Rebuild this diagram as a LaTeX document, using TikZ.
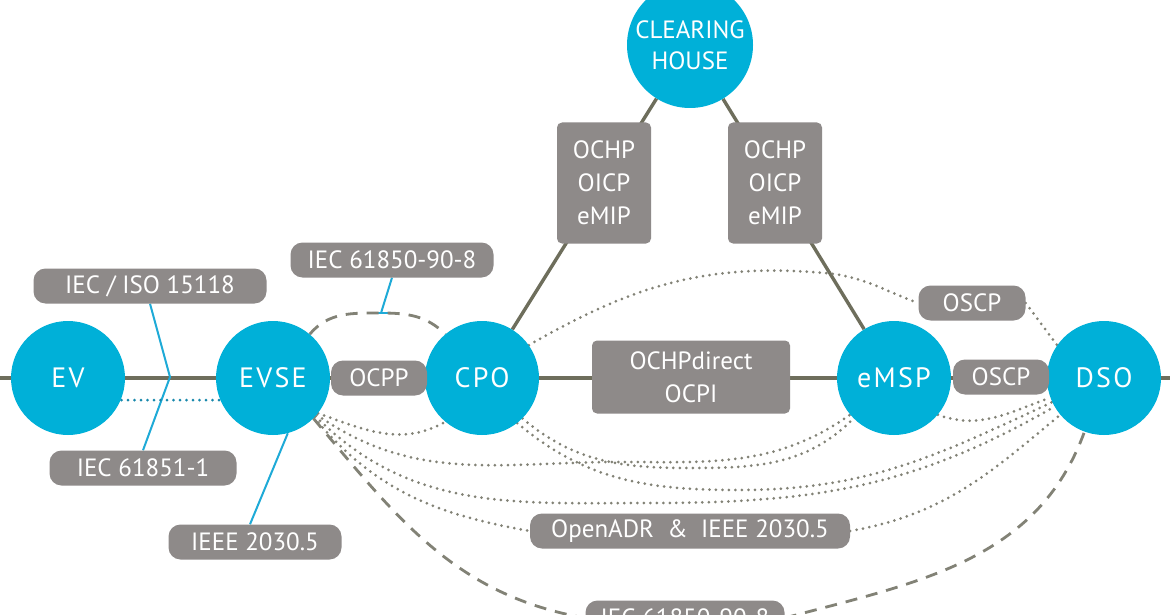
\documentclass[tikz,border=0pt]{standalone}
\usepackage{fontspec}
\setmainfont{PT Sans}
\usetikzlibrary{backgrounds}
\definecolor{cy}{RGB}{0,176,216}
\definecolor{bx}{RGB}{142,138,137}
\definecolor{ln}{RGB}{110,110,92}
\definecolor{dt}{RGB}{130,130,118}
\definecolor{bl}{RGB}{30,170,215}
\begin{document}
\begin{tikzpicture}[x=1pt,y=-1pt,
  circ/.style={circle,fill=cy,text=white,minimum size=114pt,inner sep=0pt,font=\fontsize{28}{30}\selectfont\addfontfeatures{LetterSpace=8}},
  lab/.style={rounded corners=12pt,fill=bx,text=white,minimum height=35pt,inner sep=0pt,font=\fontsize{25}{27}\selectfont},
  sq/.style={rounded corners=5pt,fill=bx,text=white,inner sep=0pt,align=center,font=\fontsize{25}{33}\selectfont},
  main/.style={ln,line width=3.4pt},
  dots/.style={dt,line width=3pt,dash pattern=on 0pt off 6.5pt,line cap=round},
  dsh/.style={dt,line width=2.8pt,dash pattern=on 12pt off 9pt},
  ptr/.style={bl,line width=2pt}]
\useasboundingbox (0,0) rectangle (1170,615);
\coordinate (L) at (0,378); \coordinate (R) at (1170,378);
\node[circ] (ev) at (68,378) {EV};
\node[circ] (evse) at (273,378) {EVSE};
\node[circ] (cpo) at (482,378) {CPO};
\node[circ] (emsp) at (894,378) {eMSP};
\node[circ] (dso) at (1104,378) {DSO};
\node[circ,minimum size=126pt,align=center,font=\fontsize{25}{31}\selectfont] (ch) at (690,45) {CLEARING\\HOUSE};
\node[lab,minimum width=233pt] (iso) at (150,286) {IEC / ISO 15118};
\node[lab,minimum width=203pt] (t61850) at (392,260) {IEC 61850-90-8};
\node[lab,minimum width=96pt] (ocpp) at (379,378) {OCPP};
\node[lab,minimum width=187pt] (i61851) at (143,468) {IEC 61851-1};
\node[lab,minimum width=173pt] (ieee) at (255,542) {IEEE 2030.5};
\node[sq,minimum width=198pt,minimum height=73pt] (ochpd) at (691,377) {OCHPdirect\\OCPI};
\node[sq,minimum width=94pt,minimum height=121pt] (o1) at (604,183) {OCHP\\OICP\\eMIP};
\node[sq,minimum width=94pt,minimum height=121pt] (o2) at (775,183) {OCHP\\OICP\\eMIP};
\node[lab,minimum width=107pt] (oscpt) at (972,303) {OSCP};
\node[lab,minimum width=96pt] (oscpm) at (1001,377) {OSCP};
\node[lab,minimum width=320pt] (adr) at (690,531) {OpenADR \ \& \ IEEE 2030.5};
\node[lab,minimum width=199pt] (b61850) at (685,618) {IEC 61850-90-8};
\coordinate (j1) at (170,377);
\coordinate (j2) at (381,313);
\begin{pgfonlayer}{background}
\fill[white] (0,0) rectangle (1170,615);
\draw[main] (L) -- (R);
\draw[main] (cpo) -- (ch);
\draw[main] (emsp) -- (ch);
\draw[ptr] (iso.south) -- (j1) -- (i61851.north);
\draw[ptr] (t61850.south) -- (j2);
\draw[ptr] (j2) ++(-7,0) -- ++(14,0);
\draw[ptr] (ieee.north) ++(-5,0) -- (evse.-75);
\draw[bl!80!black,line width=3pt,dash pattern=on 0pt off 6.5pt,line cap=round] (50,400) -- (285,400) to[out=0,in=130] (306,420);
\draw[dsh] (evse.50) to[out=50,in=180] (j2) to[out=0,in=135] (cpo.130);
\draw[dsh] (evse.-45) to[out=-50,in=170] (b61850.west);
\draw[dsh] (b61850.east) to[out=15,in=-110] (dso.-110);
\draw[dots] (cpo.35) to[out=30,in=175] (825,273) to[out=-5,in=160] (oscpt.west);
\draw[dots] (oscpt.east) -- (dso.145);
\draw[dots] (evse.-38) to[out=-20,in=-150] (cpo.-130);
\draw[dots] (evse.-40) to[out=-35,in=180] (620,462) to[out=0,in=-145] (emsp.-140);
\draw[dots] (evse.-42) to[out=-45,in=180] (650,503) to[out=0,in=-150] (dso.-150);
\draw[dots] (evse.-44) to[out=-50,in=170] (adr.west);
\draw[dots] (adr.east) to[out=10,in=-140] (dso.-140);
\draw[dots] (cpo.-45) to[out=-40,in=180] (690,468) to[out=0,in=-135] (emsp.-135);
\draw[dots] (cpo.-52) to[out=-40,in=180] (740,490) to[out=0,in=-155] (dso.-155);
\draw[dots] (emsp.-40) to[out=-20,in=-160] (dso.-160);
\end{pgfonlayer}
\end{tikzpicture}
\end{document}
